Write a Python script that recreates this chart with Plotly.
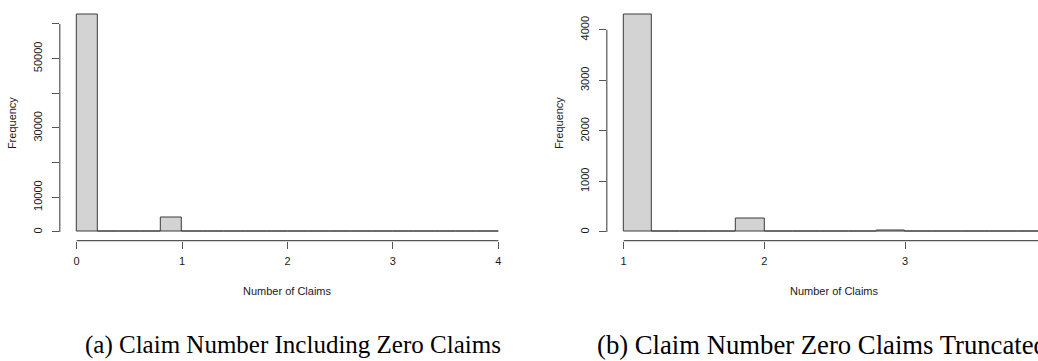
import plotly.graph_objects as go

# Histogram bins (width 0.2) and per-bin claim counts
bin_width = 0.2
left_edges = [round(i * bin_width, 1) for i in range(20)]          # 0.0 .. 3.8
left_counts = [62790, 0, 0, 0, 4310, 0, 0, 0, 0, 271,
               0, 0, 0, 0, 30, 0, 0, 0, 0, 8]
right_edges = [round(1 + i * bin_width, 1) for i in range(15)]     # 1.0 .. 3.8
right_counts = [4310, 0, 0, 0, 271, 0, 0, 0, 0, 30,
                0, 0, 0, 0, 8]

left_xticks = [0, 1, 2, 3, 4]
right_xticks = [1, 2, 3, 4]
left_yticks = [0, 10000, 20000, 30000, 40000, 50000, 60000]
left_ylabels = ["0", "10000", "", "30000", "", "50000", ""]
right_yticks = [0, 1000, 2000, 3000, 4000]
right_ylabels = ["0", "1000", "2000", "3000", "4000"]

caption_a = "(a) Claim Number Including Zero Claims"
caption_b = "(b) Claim Number Zero Claims Truncated"
x_title = "Number of Claims"
y_title = "Frequency"

W, H = 1038, 361
FILL = "#D3D3D3"
EDGE = "#3a3a3a"
AXIS = "#555555"
TXT = "#1a1a1a"
SANS = "Liberation Sans, Arial, sans-serif"
SERIF = "Liberation Serif, Times New Roman, serif"

# plot regions in pixels (R-style 4% padding on data ranges)
plot_top, plot_bottom = 5.5, 240.7
left_px = (59.8, 515.2)
right_left_px = 606.8
right_unit_px = 140.7


def pad(lo, hi, f=0.04):
    d = (hi - lo) * f
    return lo - d, hi + d


fig = go.Figure()

for edges, counts, xa, ya in [(left_edges, left_counts, "x", "y"),
                              (right_edges, right_counts, "x2", "y2")]:
    centers = [e + bin_width / 2 for e in edges]
    fig.add_trace(go.Bar(
        x=centers, y=counts, width=bin_width,
        marker=dict(color=FILL, line=dict(color=EDGE, width=1)),
        xaxis=xa, yaxis=ya, showlegend=False, hoverinfo="x+y",
    ))

yl_range = pad(0, max(left_counts))
yr_range = pad(0, max(right_counts))
xl_range = pad(left_edges[0], left_edges[-1] + bin_width)
xr_full = pad(right_edges[0], right_edges[-1] + bin_width)
xr_range = (xr_full[0], xr_full[0] + (W - right_left_px) / right_unit_px)

ydom = [(H - plot_bottom) / H, (H - plot_top) / H]

axis_common = dict(
    showgrid=False, zeroline=False, showline=False, ticks="outside",
    ticklen=7, tickwidth=1, tickcolor=AXIS,
    tickfont=dict(family=SANS, size=11, color=TXT),
)

fig.update_layout(
    width=W, height=H, margin=dict(l=0, r=0, t=0, b=0),
    paper_bgcolor="white", plot_bgcolor="white", bargap=0,
    xaxis=dict(domain=[left_px[0] / W, left_px[1] / W], range=list(xl_range),
               tickvals=left_xticks, anchor="y", ticklabelstandoff=3,
               **axis_common),
    yaxis=dict(domain=ydom, range=list(yl_range), tickvals=left_yticks,
               ticktext=left_ylabels, tickangle=-90, anchor="x",
               ticklabelstandoff=5, **axis_common),
    xaxis2=dict(domain=[right_left_px / W, 1], range=list(xr_range),
                tickvals=right_xticks, anchor="y2", ticklabelstandoff=3,
                **axis_common),
    yaxis2=dict(domain=ydom, range=list(yr_range), tickvals=right_yticks,
                ticktext=right_ylabels, tickangle=-90, anchor="x2",
                ticklabelstandoff=5, **axis_common),
)

# R-style axis lines spanning first to last tick
fig.add_shape(type="line", xref="x", yref="paper", x0=left_xticks[0],
              x1=left_xticks[-1], y0=ydom[0], y1=ydom[0],
              line=dict(color=AXIS, width=1.2))
fig.add_shape(type="line", xref="x domain", yref="y", x0=0, x1=0,
              y0=left_yticks[0], y1=left_yticks[-1],
              line=dict(color=AXIS, width=1.2))
fig.add_shape(type="line", xref="x2", yref="paper", x0=right_xticks[0],
              x1=right_xticks[-1], y0=ydom[0], y1=ydom[0],
              line=dict(color=AXIS, width=1.2))
fig.add_shape(type="line", xref="x2 domain", yref="y2", x0=0, x1=0,
              y0=right_yticks[0], y1=right_yticks[-1],
              line=dict(color=AXIS, width=1.2))

# axis titles, centred on the full (padded) plot regions
right_px = (right_left_px, right_left_px + (xr_full[1] - xr_full[0]) * right_unit_px)
ymid = 1 - (plot_top + plot_bottom) / 2 / H
for (x0, x1), yx in [(left_px, 12), (right_px, 559)]:
    fig.add_annotation(text=x_title, xref="paper", yref="paper",
                       x=(x0 + x1) / 2 / W, y=1 - 291 / H, showarrow=False,
                       xanchor="center", yanchor="middle",
                       font=dict(family=SANS, size=11, color=TXT))
    fig.add_annotation(text=y_title, xref="paper", yref="paper",
                       x=yx / W, y=ymid, textangle=-90, showarrow=False,
                       xanchor="center", yanchor="middle",
                       font=dict(family=SANS, size=11, color=TXT))

# sub-figure captions
fig.add_annotation(text=caption_a, xref="paper", yref="paper",
                   x=(88 + 497) / 2 / W, y=1 - 345 / H, showarrow=False,
                   xanchor="center", yanchor="middle",
                   font=dict(family=SERIF, size=25, color="black"))
fig.add_annotation(text=caption_b, xref="paper", yref="paper",
                   x=595 / W, xanchor="left", y=1 - 345 / H, yanchor="middle",
                   showarrow=False,
                   font=dict(family=SERIF, size=26.7, color="black"))

fig.write_html("out.html")
